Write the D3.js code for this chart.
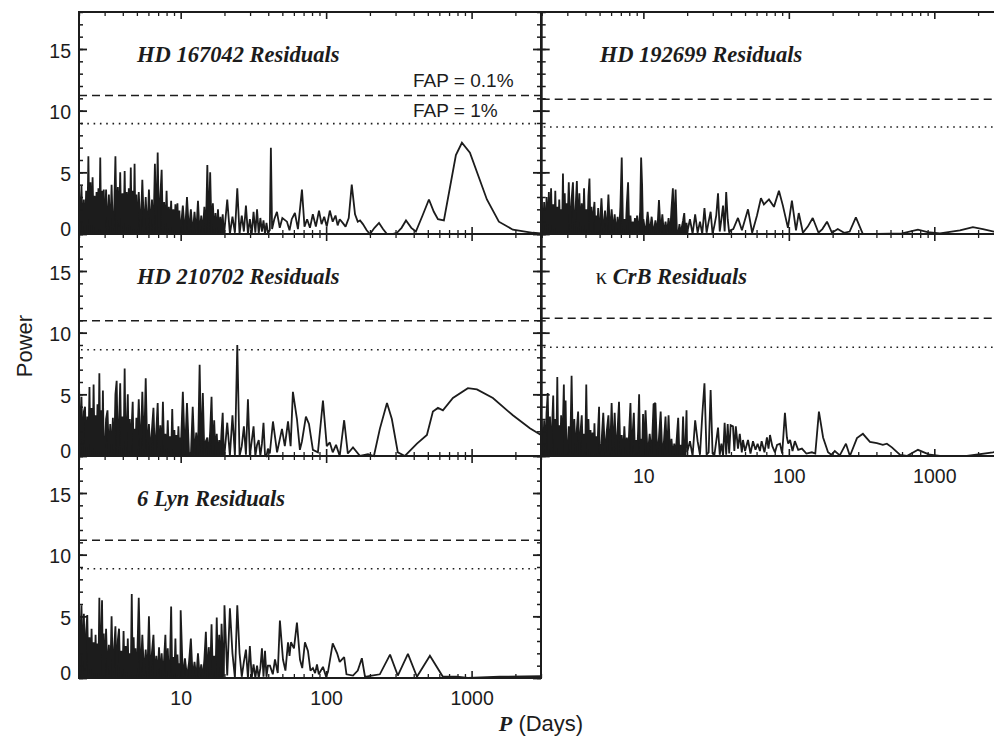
<!DOCTYPE html>
<html>
<head>
<meta charset="utf-8">
<script src="https://cdn.jsdelivr.net/npm/d3@7/dist/d3.min.js"></script>
<style>
  body { margin: 0; background: #fff; }
  svg { display: block; }
</style>
</head>
<body>
<svg id="chart" width="994" height="738"></svg>
<script>
// period grid (days) shared by the dense short-period part of every periodogram
const periodGrid = [
  2.00, 2.04, 2.08, 2.12, 2.16, 2.20, 2.24, 2.28, 2.32, 2.36, 2.40, 2.44, 2.48, 2.52, 2.56, 2.60, 2.64, 2.68, 2.72, 2.76, 2.80, 2.84, 2.88, 2.92, 2.96,
  3.00, 3.07, 3.14, 3.21, 3.28, 3.35, 3.42, 3.49, 3.56, 3.63, 3.70, 3.77, 3.84, 3.91, 3.98, 4.05, 4.12, 4.19, 4.26, 4.33, 4.40, 4.47, 4.54, 4.61, 4.68, 4.75, 4.82, 4.89, 4.96,
  5.00, 5.15, 5.30, 5.45, 5.60, 5.75, 5.90, 6.05, 6.20, 6.35, 6.50, 6.65, 6.80, 6.95, 7.10, 7.25, 7.40, 7.55, 7.70, 7.85, 8.00, 8.15, 8.30, 8.45, 8.60, 8.75, 8.90, 9.05, 9.20, 9.35, 9.50, 9.65, 9.80, 9.95,
  10.0, 10.35, 10.7, 11.05, 11.4, 11.75, 12.1, 12.45, 12.8, 13.15, 13.5, 13.85, 14.2, 14.55, 14.9, 15.25, 15.6, 15.95, 16.3, 16.65, 17.0, 17.35, 17.7, 18.05, 18.4, 18.75, 19.1, 19.45, 19.8,
  20.0, 20.9, 21.8, 22.7, 23.6, 24.5, 25.4, 26.3, 27.2, 28.1, 29.0, 29.9, 30.8, 31.7, 32.6, 33.5, 34.4, 35.3, 36.2, 37.1, 38.0, 38.9, 39.8
];

const powerTicks = [0, 5, 10, 15];
const powerMinorTicks = [0, 1, 2, 3, 4, 5, 6, 7, 8, 9, 10, 11, 12, 13, 14, 15, 16, 17, 18];
const periodTicks = [10, 100, 1000];
const periodMinorTicks = [2, 3, 4, 5, 6, 7, 8, 9, 20, 30, 40, 50, 60, 70, 80, 90, 200, 300, 400, 500, 600, 700, 800, 900, 2000, 3000];

const starNames = ['HD 167042', 'HD 192699', 'HD 210702', 'κ CrB', '6 Lyn'];
const fapHigh = [11.22, 10.92, 10.97, 11.17, 11.17];   // FAP = 0.1%
const fapLow = [8.95, 8.68, 8.62, 8.82, 8.86];         // FAP = 1%

// power on periodGrid
const dense167042 = [
  4.0, 0.2, 3.9, 0.0, 2.8, 0.1, 3.5, 0.0, 6.3, 0.3, 4.2, 0.1, 4.6, 0.5, 3.1, 0.0, 3.4, 0.2, 3.7, 0.4, 6.2, 0.1, 3.5, 0.0, 3.6,
  0.1, 3.6, 0.2, 3.2, 0.0, 4.0, 0.3, 1.8, 6.3, 0.1, 3.8, 0.6, 5.0, 0.0, 3.3, 0.2, 5.1, 0.1, 3.4, 0.3, 3.7, 0.5, 5.4, 0.1, 3.5, 0.4, 5.7, 0.0, 3.2,
  0.1, 3.4, 0.1, 4.4, 0.2, 3.0, 0.0, 3.6, 0.3, 2.8, 0.0, 5.7, 0.2, 6.6, 0.1, 3.1, 5.2, 0.0, 2.6, 0.3, 3.5, 0.0, 2.2, 0.2, 2.7, 0.0, 2.0, 0.2, 2.4, 0.0, 2.5, 0.1, 1.9, 0.0,
  0.3, 2.3, 0.0, 3.0, 0.2, 2.0, 0.0, 1.8, 0.1, 2.7, 0.0, 1.5, 0.2, 2.2, 0.0, 5.6, 0.2, 5.0, 0.1, 2.5, 0.0, 1.7, 0.1, 2.0, 0.0, 1.4, 0.1, 1.6, 0.0,
  0.3, 2.8, 0.0, 1.4, 0.1, 3.7, 0.0, 1.5, 0.2, 2.3, 0.0, 1.2, 0.0, 1.8, 0.1, 2.0, 0.0, 1.3, 0.2, 1.1, 0.0, 0.9, 0.1
];
const tail167042 = [
  [41.0, 0.3], [41.7, 7.0], [42.5, 0.4], [44, 1.2], [45.9, 1.8], [48, 0.5], [50, 1.3], [53.8, 1.0], [56, 0.3], [58, 1.2],
  [61.0, 1.7], [64, 0.4], [68.2, 3.6], [71, 0.6], [74, 1.2], [77.4, 0.5], [81, 1.6], [85, 0.6], [89.3, 1.9], [93, 0.8],
  [97, 1.4], [101, 0.6], [106, 1.9], [111, 1.0], [116, 1.5], [120, 0.7], [124, 1.2], [130, 0.9], [136, 0.6], [143, 1.3],
  [150, 4.0], [158, 1.6], [165, 1.0], [171, 1.1], [179, 0.8], [190, 0.3], [200, 0.0], [215, 0.5], [231, 0.9], [246, 0.4],
  [262, 0.0], [285, 0.0], [307, 0.1], [330, 0.5], [354, 1.1], [385, 0.5], [414, 0.2], [460, 1.5], [509, 2.8], [550, 1.8],
  [587, 1.2], [645, 1.1], [780, 6.4], [858, 7.4], [974, 6.6], [1274, 2.8], [1540, 1.0], [1922, 0.35], [2638, 0.1], [3000, 0.05]
];

const dense192699 = [
  3.0, 0.1, 2.6, 0.0, 3.0, 0.3, 3.4, 0.1, 3.7, 0.2, 2.4, 0.0, 3.5, 0.2, 2.2, 0.0, 2.8, 0.2, 2.0, 0.0, 4.9, 0.1, 3.3, 0.3, 2.5,
  0.1, 4.2, 0.2, 2.8, 4.2, 0.0, 2.1, 4.3, 0.1, 3.3, 0.3, 2.5, 0.0, 3.7, 0.2, 2.0, 0.0, 3.1, 4.5, 0.1, 2.2, 0.0, 1.8, 2.6, 0.1, 1.5, 0.2, 2.1, 0.0,
  0.2, 2.9, 0.0, 1.9, 0.1, 3.2, 0.0, 2.0, 0.2, 1.6, 0.0, 1.4, 0.1, 2.2, 6.2, 0.1, 1.2, 0.0, 2.5, 4.2, 0.1, 1.5, 0.0, 1.0, 0.1, 1.3, 0.0, 1.5, 0.1, 0.9, 1.8, 6.2, 4.0, 0.1,
  1.2, 0.0, 1.8, 0.1, 1.4, 0.0, 1.1, 0.1, 2.75, 0.1, 1.6, 0.0, 1.0, 0.1, 1.3, 0.0, 2.0, 3.7, 0.2, 3.6, 0.2, 0.0, 0.8, 0.0, 0.6, 1.1, 1.7, 0.0, 0.9,
  0.1, 1.2, 0.0, 1.6, 0.1, 1.0, 0.0, 2.1, 0.1, 1.0, 1.8, 0.0, 0.7, 1.5, 3.3, 0.2, 1.2, 2.3, 0.2, 3.4, 1.2, 0.1, 0.3
];
const tail192699 = [
  [41.5, 0.4], [44.7, 1.3], [47.6, 0.3], [52.4, 2.0], [56, 0.1], [60.4, 1.5], [64.3, 2.9], [67.4, 2.4], [73, 2.8], [79, 2.2],
  [85.5, 3.5], [91, 2.3], [98.6, 0.5], [105, 2.7], [112, 0.3], [117, 1.7], [125, 0.1], [135, 0.6], [146, 1.3], [160, 0.1],
  [170, 0.4], [183, 1.0], [198, 0.1], [217, 0.4], [240, 0.1], [262, 0.2], [289, 1.35], [323, 0.0], [400, 0.0], [600, 0.05],
  [772, 0.35], [900, 0.15], [1093, 0.05], [1500, 0.3], [1842, 0.55], [2158, 0.4], [2569, 0.2], [3000, 0.1]
];

const dense210702 = [
  5.9, 0.4, 4.8, 0.1, 3.6, 4.0, 0.1, 3.2, 0.3, 5.6, 0.0, 3.9, 0.2, 5.8, 0.1, 3.3, 0.4, 4.2, 0.0, 6.7, 0.3, 3.7, 0.0, 5.3, 0.2,
  0.1, 3.0, 3.7, 0.0, 2.6, 0.3, 3.1, 0.0, 5.0, 6.1, 0.2, 2.8, 5.9, 0.1, 3.2, 0.2, 7.1, 0.0, 2.4, 5.0, 0.1, 3.0, 0.3, 2.6, 4.4, 0.0, 2.2, 0.2, 3.1,
  0.2, 4.6, 0.1, 5.2, 0.3, 6.3, 0.0, 2.6, 0.2, 2.2, 3.9, 0.0, 2.0, 4.3, 0.1, 2.5, 0.0, 4.4, 0.3, 1.8, 0.0, 2.9, 0.1, 1.6, 0.0, 3.8, 0.2, 2.1, 0.0, 1.7, 0.2, 2.4, 0.0, 1.5,
  0.2, 5.2, 0.1, 4.3, 0.3, 0.0, 4.0, 0.1, 1.9, 0.0, 7.4, 0.2, 5.1, 0.1, 1.2, 1.5, 0.0, 2.0, 4.8, 0.1, 2.9, 0.0, 1.8, 0.0, 1.3, 0.1, 2.0, 3.5, 0.0,
  0.1, 2.7, 0.0, 3.3, 0.0, 9.0, 0.0, 0.8, 2.4, 0.1, 4.6, 0.0, 1.2, 2.4, 0.0, 0.9, 1.3, 0.0, 1.0, 2.7, 0.1, 0.0, 0.6
];
const tail210702 = [
  [41, 0.2], [43.1, 2.8], [46, 0.3], [49.7, 2.2], [52, 0.8], [54.7, 2.8], [57, 0.8], [59.1, 5.2], [63.0, 3.0], [66, 0.5],
  [68.2, 1.2], [72.6, 3.2], [76.2, 2.6], [81.1, 0.5], [87.8, 0.3], [95.1, 4.5], [101, 0.8], [106, 1.1], [111, 0.3], [117, 0.9],
  [124, 0.0], [133, 2.9], [141, 0.2], [153, 0.7], [171, 0.0], [194, 0.15], [213, 0.0], [234, 2.2], [262, 4.3], [283, 3.0],
  [311, 0.3], [348, 0.0], [421, 1.0], [493, 1.7], [542, 3.6], [587, 3.9], [635, 3.7], [744, 4.7], [943, 5.5], [1088, 5.4],
  [1401, 4.7], [1922, 3.3], [2516, 2.25], [3000, 1.7]
];

const denseKapCrB = [
  3.0, 0.1, 2.9, 0.3, 3.5, 5.1, 0.1, 3.2, 0.2, 2.6, 4.9, 0.0, 3.0, 0.3, 6.4, 0.1, 2.5, 0.2, 3.3, 0.0, 2.8, 5.8, 0.1, 4.5, 0.2,
  0.1, 2.4, 0.2, 6.5, 0.0, 3.0, 0.3, 2.2, 3.6, 0.1, 2.0, 3.3, 0.0, 1.8, 0.2, 5.8, 0.1, 3.0, 0.3, 2.1, 0.0, 1.9, 0.1, 2.65, 0.0, 1.6, 0.2, 2.3, 4.0,
  0.2, 1.0, 3.5, 0.1, 2.0, 3.3, 0.1, 4.3, 0.2, 3.5, 0.1, 2.1, 4.4, 0.2, 1.7, 0.0, 2.4, 0.2, 1.5, 0.0, 2.2, 4.3, 0.1, 1.9, 3.5, 0.1, 1.3, 0.0, 2.0, 5.0, 0.1, 1.4, 0.0, 3.4,
  0.1, 3.7, 0.0, 1.8, 0.2, 4.2, 4.3, 0.0, 1.5, 3.6, 0.0, 1.2, 3.2, 0.1, 3.3, 0.0, 1.4, 0.0, 1.0, 0.1, 1.6, 3.1, 0.0, 0.9, 0.1, 3.2, 0.1, 0.8, 3.7,
  0.3, 1.2, 0.0, 2.9, 1.2, 0.1, 3.3, 5.9, 0.1, 0.3, 5.35, 0.2, 0.1, 1.2, 2.3, 0.1, 1.0, 0.0, 2.7, 0.1, 2.6, 0.2, 2.5
];
const tailKapCrB = [
  [41.3, 2.4], [42.2, 0.4], [43.2, 2.4], [44.7, 0.6], [46, 1.8], [47.5, 0.3], [48.4, 1.3], [50, 0.4], [52.4, 1.3], [54.5, 0.2],
  [56.7, 1.2], [59, 0.5], [61, 1.0], [63.3, 0.4], [65, 1.2], [68, 0.3], [70.7, 1.5], [72.5, 0.6], [74.2, 1.7], [77, 0.8],
  [80.3, 0.3], [83, 0.9], [86.9, 1.0], [90, 0.2], [94.0, 3.5], [97.0, 1.5], [99, 1.0], [102, 1.3], [106, 0.4], [110, 1.2],
  [116, 0.5], [123, 0.6], [132, 0.2], [144, 0.3], [152, 0.2], [161, 3.6], [172, 1.5], [186, 0.3], [196, 0.1], [207, 0.4],
  [224, 0.05], [247, 1.0], [263, 0.0], [294, 1.45], [323, 1.8], [361, 1.15], [403, 1.05], [443, 0.9], [472, 1.0], [511, 0.7],
  [580, 0.1], [648, 0.0], [772, 0.5], [933, 0.1], [1093, 0.0], [1675, 0.0], [2528, 0.3], [3000, 0.45]
];

const dense6Lyn = [
  6.5, 0.5, 5.9, 0.3, 5.2, 0.6, 3.8, 5.1, 0.2, 3.3, 0.4, 4.0, 0.1, 2.9, 0.3, 3.5, 0.1, 2.8, 0.4, 6.5, 0.2, 3.0, 6.3, 0.2, 3.6,
  0.1, 4.0, 0.3, 2.7, 0.0, 5.0, 0.3, 2.4, 4.2, 0.1, 3.1, 4.0, 0.1, 2.2, 0.2, 3.8, 0.0, 2.6, 0.3, 3.2, 0.0, 2.0, 0.2, 6.8, 0.1, 3.3, 0.2, 2.4, 0.0,
  0.3, 6.5, 0.0, 3.5, 0.2, 2.3, 0.1, 5.0, 0.2, 2.1, 3.5, 0.0, 1.8, 0.1, 2.5, 0.0, 2.0, 0.2, 1.6, 3.5, 0.0, 2.4, 0.1, 1.4, 5.8, 0.0, 1.7, 0.1, 3.2, 0.0, 1.9, 0.1, 1.2, 0.0,
  5.5, 0.0, 1.6, 0.1, 1.2, 3.2, 0.0, 1.3, 0.0, 2.0, 0.1, 1.1, 0.0, 1.5, 3.75, 0.0, 2.5, 0.1, 4.35, 0.1, 1.8, 0.0, 4.9, 0.2, 3.5, 0.0, 4.4, 2.0, 0.1,
  5.9, 0.2, 5.65, 2.0, 0.0, 5.9, 2.0, 0.1, 1.3, 2.3, 0.0, 2.6, 0.0, 1.1, 0.0, 1.0, 0.0, 0.8, 2.4, 0.1, 2.2, 0.1, 1.0
];
const tail6Lyn = [
  [41.1, 1.0], [43, 0.3], [44.5, 1.5], [46.5, 0.4], [48.1, 4.65], [50.5, 1.5], [52.5, 0.6], [54.7, 2.9], [56, 1.8], [57.3, 2.9],
  [60.1, 2.4], [63.0, 4.5], [66.1, 1.5], [68.5, 0.8], [71.5, 2.9], [75.0, 2.2], [78, 0.6], [81.1, 0.8], [84, 0.4], [86.5, 1.1],
  [89, 0.3], [95.1, 0.9], [100, 0.1], [103, 0.5], [111, 2.8], [119, 2.0], [124, 1.3], [133, 1.7], [138, 0.3], [153, 0.2],
  [165, 0.6], [176, 1.6], [185, 0.1], [206, 0.2], [234, 0.3], [275, 1.9], [311, 0.2], [365, 1.95], [421, 0.1], [517, 1.8],
  [635, 0.1], [792, 0.1], [943, 0.0], [1565, 0.1], [3000, 0.15]
];

const denseSeries = [dense167042, dense192699, dense210702, denseKapCrB, dense6Lyn];
const tailSeries = [tail167042, tail192699, tail210702, tailKapCrB, tail6Lyn];

// layout: column / row of every panel
const panelCol = [0, 1, 0, 1, 0];
const panelRow = [0, 0, 1, 1, 2];
const W = 462, H = 222;
const colX = [79, 541.7];
const rowY = [12, 234, 456];
const ink = '#1c1c1c';
const sans = '"Liberation Sans", Arial, Helvetica, sans-serif';
const serif = '"Liberation Serif", "Times New Roman", serif';

const svg = d3.select('#chart');
const x = d3.scaleLog().domain([2, 3000]).range([0, W]);
const y = d3.scaleLinear().domain([0, 18]).range([H, 0]);
const line = d3.line().x(d => x(d[0])).y(d => y(d[1]));
// below ~20 d the periodogram oscillates faster than a pixel, so it prints as a solid mass
const mass = d3.area().x(d => x(d[0])).y0(y(0)).y1(d => y(d[1]));

function styleAxis(sel, width) {
  sel.select('.domain').remove();
  sel.selectAll('.tick line').attr('stroke', ink).attr('stroke-width', width);
  sel.selectAll('.tick text').attr('fill', ink).style('font-family', sans).style('font-size', '19.5px');
}

starNames.forEach((name, i) => {
  const col = panelCol[i], row = panelRow[i];
  const g = svg.append('g').attr('transform', `translate(${colX[col]},${rowY[row]})`);
  const dense = periodGrid.map((p, j) => [p, denseSeries[i][j]]);
  const series = dense.concat(tailSeries[i]);

  g.append('path')
    .datum(dense.filter(d => d[0] < 20))
    .attr('d', mass)
    .attr('fill', ink);

  g.append('path')
    .datum(series)
    .attr('d', line)
    .attr('fill', 'none')
    .attr('stroke', ink)
    .attr('stroke-width', 1.8)
    .attr('stroke-miterlimit', 2);

  g.append('line')
    .attr('x1', 0).attr('x2', W)
    .attr('y1', y(fapHigh[i])).attr('y2', y(fapHigh[i]))
    .attr('stroke', ink).attr('stroke-width', 1.5)
    .attr('stroke-dasharray', '8,5');
  g.append('line')
    .attr('x1', 2).attr('x2', W)
    .attr('y1', y(fapLow[i])).attr('y2', y(fapLow[i]))
    .attr('stroke', ink).attr('stroke-width', 1.6)
    .attr('stroke-dasharray', '1.6,4.7');

  // minor ticks on all four sides
  g.append('g').call(d3.axisLeft(y).tickValues(powerMinorTicks).tickSize(-4).tickFormat(''))
    .call(styleAxis, 1.5);
  g.append('g').attr('transform', `translate(${W},0)`)
    .call(d3.axisRight(y).tickValues(powerMinorTicks).tickSize(-4).tickFormat(''))
    .call(styleAxis, 1.5);
  g.append('g').attr('transform', `translate(0,${H})`)
    .call(d3.axisBottom(x).tickValues(periodMinorTicks).tickSize(-4).tickFormat(''))
    .call(styleAxis, 1.3);
  g.append('g')
    .call(d3.axisTop(x).tickValues(periodMinorTicks).tickSize(-4).tickFormat(''))
    .call(styleAxis, 1.3);

  // major ticks
  const yLeft = g.append('g')
    .call(d3.axisLeft(y).tickValues(powerTicks).tickSize(-8).tickPadding(8)
      .tickFormat(col === 0 ? d3.format('d') : ''))
    .call(styleAxis, 1.8);
  yLeft.selectAll('.tick text').attr('dy', d => d === 0 ? '0.06em' : '0.41em');
  g.append('g').attr('transform', `translate(${W},0)`)
    .call(d3.axisRight(y).tickValues(powerTicks).tickSize(-8).tickFormat(''))
    .call(styleAxis, 1.8);
  const isBottom = (col === 0 && row === 2) || (col === 1 && row === 1);
  g.append('g').attr('transform', `translate(0,${H})`)
    .call(d3.axisBottom(x).tickValues(periodTicks).tickSize(-7).tickPadding(13)
      .tickFormat(isBottom ? d3.format('d') : ''))
    .call(styleAxis, 1.6);
  g.append('g')
    .call(d3.axisTop(x).tickValues(periodTicks).tickSize(-7).tickFormat(''))
    .call(styleAxis, 1.6);

  g.append('rect')
    .attr('width', W).attr('height', H)
    .attr('fill', 'none')
    .attr('stroke', ink)
    .attr('stroke-width', 2);

  const title = g.append('text')
    .attr('x', name.startsWith('κ') ? 54 : 58)
    .attr('y', 50)
    .attr('fill', ink)
    .style('font-family', serif)
    .style('font-size', '22.5px')
    .style('font-weight', 'bold')
    .style('font-style', 'italic');
  if (name.startsWith('κ')) {
    title.append('tspan').style('font-style', 'normal').style('font-weight', 'normal').text('κ');
    title.append('tspan').text(name.slice(1) + ' Residuals');
  } else {
    title.text(name + ' Residuals');
  }

  if (i === 0) {
    g.append('text').attr('x', 334).attr('y', 75)
      .attr('fill', ink).style('font-family', sans).style('font-size', '19px')
      .text('FAP = 0.1%');
    g.append('text').attr('x', 334).attr('y', 105)
      .attr('fill', ink).style('font-family', sans).style('font-size', '19px')
      .text('FAP = 1%');
  }
});

svg.append('text')
  .attr('transform', 'translate(31.5,346) rotate(-90)')
  .attr('text-anchor', 'middle')
  .attr('fill', ink)
  .style('font-family', sans)
  .style('font-size', '22px')
  .text('Power');

const xTitle = svg.append('text')
  .attr('x', 541)
  .attr('y', 731)
  .attr('text-anchor', 'middle')
  .attr('fill', ink)
  .style('font-size', '22px');
xTitle.append('tspan')
  .style('font-family', serif)
  .style('font-style', 'italic')
  .style('font-weight', 'bold')
  .text('P');
xTitle.append('tspan')
  .style('font-family', sans)
  .text(' (Days)');
</script>
</body>
</html>
